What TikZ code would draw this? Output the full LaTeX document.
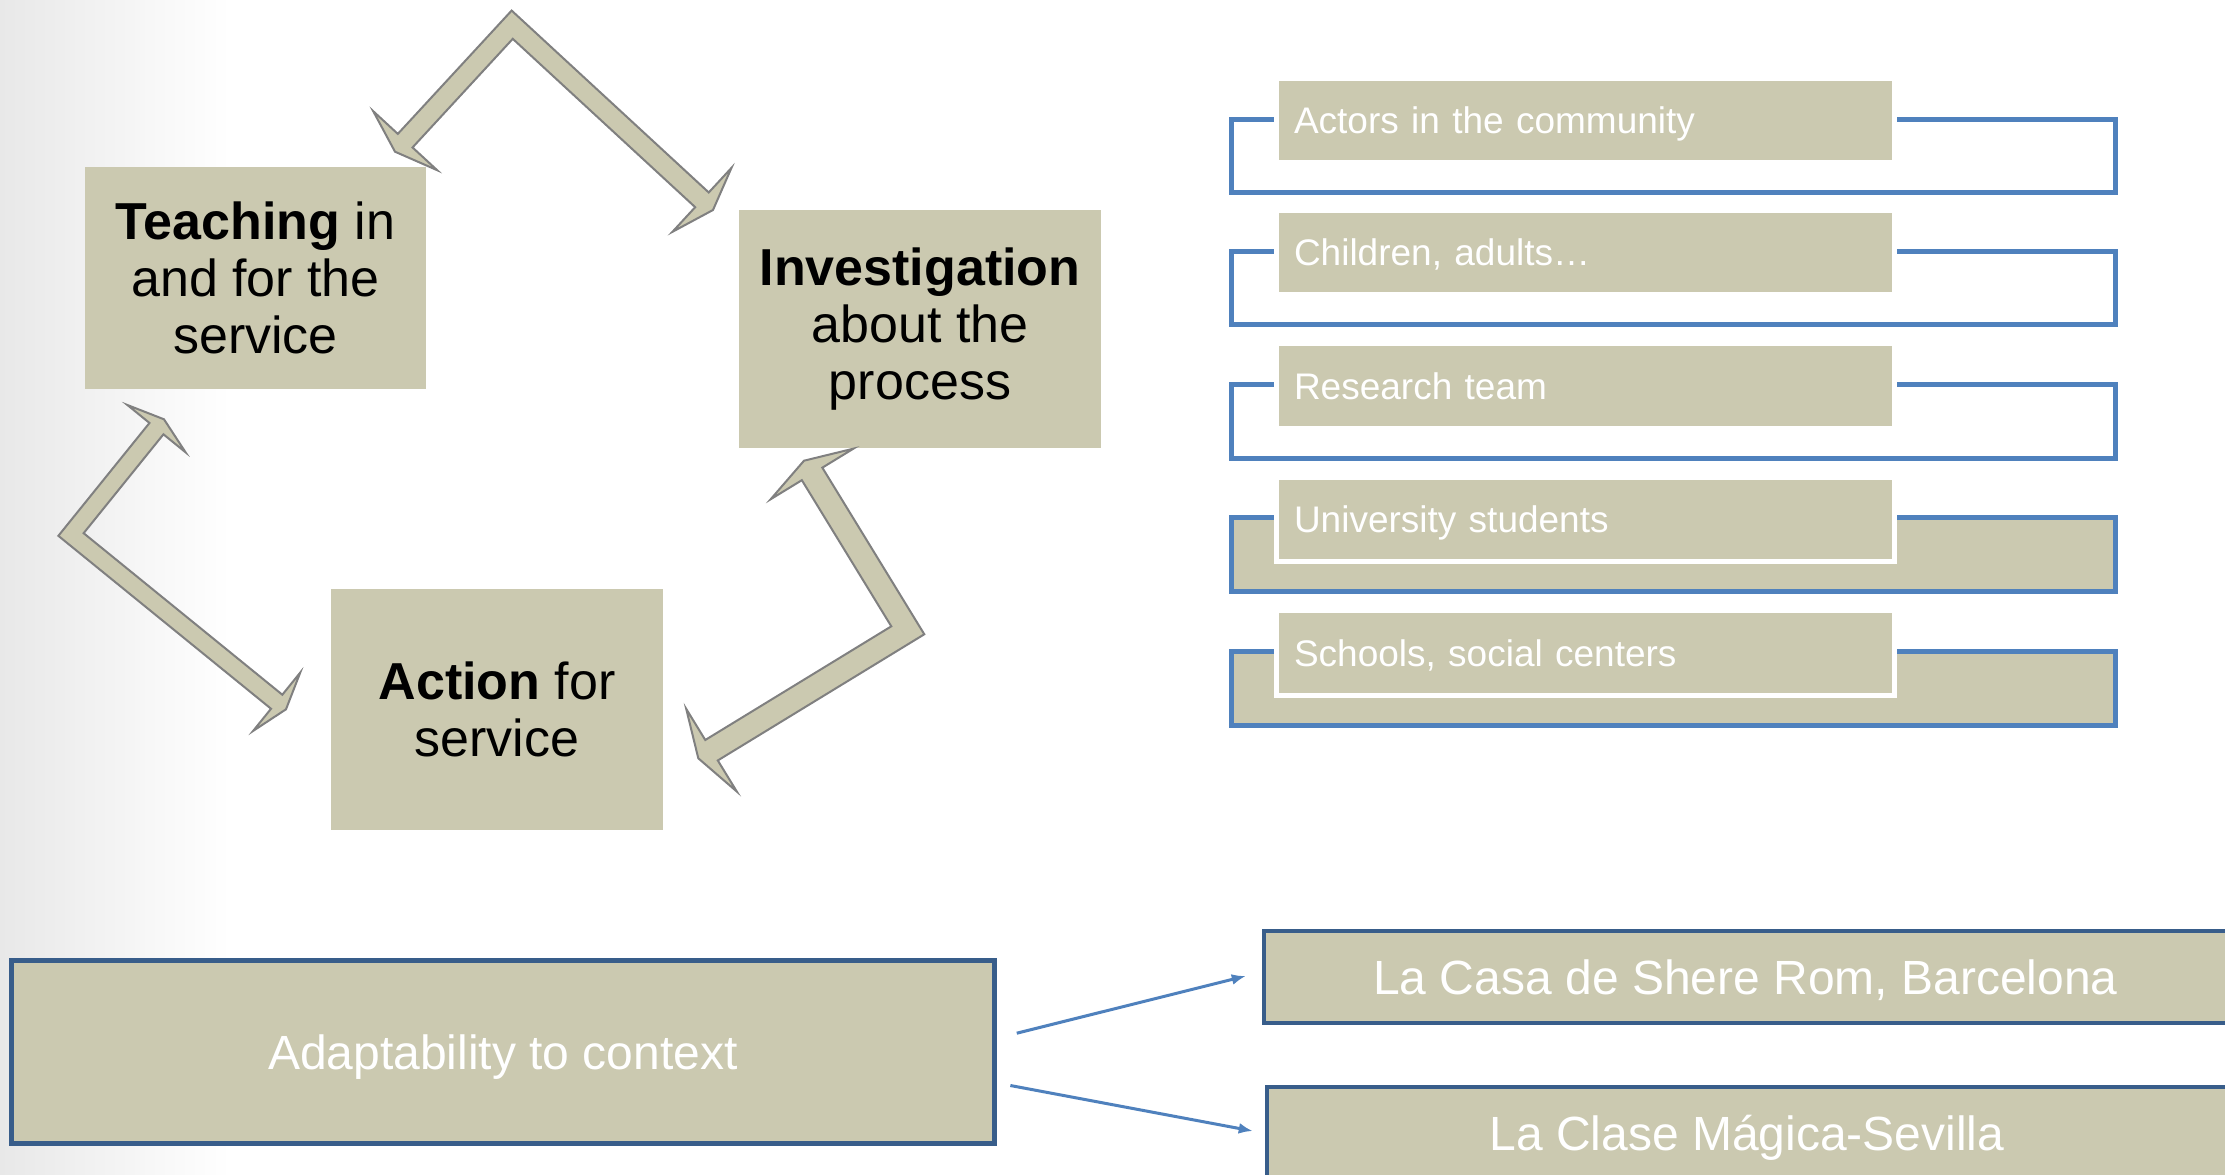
\documentclass[tikz,border=0pt]{standalone}
\usepackage{fontspec}
\setmainfont{Liberation Sans}
\usetikzlibrary{calc,arrows.meta}
\definecolor{beige}{RGB}{203,201,176}
\definecolor{ablue}{RGB}{79,129,189}
\definecolor{dblue}{RGB}{56,93,138}
\definecolor{agray}{RGB}{128,128,128}
\tikzset{
  cyc/.style={rectangle, fill=beige, inner sep=0pt, align=center, text=black,
    font=\fontsize{52}{57}\selectfont},
  cycarrow/.style={fill=beige, draw=agray, line width=2pt, line join=miter},
  bracket/.style={draw=ablue, line width=5pt, line join=miter},
  listnode/.style={rectangle, fill=beige, draw=white, line width=5pt,
    minimum width=618pt, minimum height=84.5pt, text width=582pt, inner xsep=18pt,
    inner ysep=0pt, align=left, text=white, font=\fontsize{37}{44}\selectfont,
    text height=26.5pt, text depth=0pt},
  bigbox/.style={rectangle, fill=beige, draw=dblue, line width=4.5pt, inner sep=0pt,
    text=white, font=\fontsize{48}{56}\selectfont, text height=34.5pt, text depth=0pt},
  conn/.style={draw=ablue, line width=3pt, -{Latex[length=14pt,width=11pt]}}
}
% bent double arrow: #1 tip1, #2 corner, #3 tip2, #4 half shaft width, #5 head half width, #6 head length
\newcommand{\bentarrow}[6]{%
  \coordinate (ba-o) at ($(#2)!-#4!(#1) + (#2)!-#4!(#3) - (#2)$);
  \coordinate (ba-i) at ($(#2)!#4!(#1) + (#2)!#4!(#3) - (#2)$);
  \coordinate (ba-b1) at ($(#1)!#6!(#2)$);
  \coordinate (ba-b2) at ($(#3)!#6!(#2)$);
  \filldraw[cycarrow] (ba-o)
    -- ($(ba-b1) + (#2)!-#4!(#3) - (#2)$)
    -- ($(ba-b1) + (#2)!-#5!(#3) - (#2)$)
    -- (#1)
    -- ($(ba-b1) + (#2)!#5!(#3) - (#2)$)
    -- ($(ba-b1) + (#2)!#4!(#3) - (#2)$)
    -- (ba-i)
    -- ($(ba-b2) + (#2)!#4!(#1) - (#2)$)
    -- ($(ba-b2) + (#2)!#5!(#1) - (#2)$)
    -- (#3)
    -- ($(ba-b2) + (#2)!-#5!(#1) - (#2)$)
    -- ($(ba-b2) + (#2)!-#4!(#1) - (#2)$)
    -- cycle;
}
% list item with bracket: #1 top y, #2 name, #3 text, #4 bracket fill option
\newcommand{\listbox}[4]{%
  \path[#4] (1231.7,#1+38.3) rectangle (2115.7,#1+112);
  \draw[bracket] (1300,#1+38.3) -- (1231.7,#1+38.3) -- (1231.7,#1+112)
    -- (2115.7,#1+112) -- (2115.7,#1+38.3) -- (1870,#1+38.3);
  \node[listnode] (#2) at (1585,#1+39.75) {#3};
}
\begin{document}
\begin{tikzpicture}[x=1pt,y=-1pt]
\useasboundingbox (0,0) rectangle (2225,1175);
\clip (0,0) rectangle (2225,1175);
\fill[white] (0,0) rectangle (2225,1175);
\shade[left color=black!9, right color=white] (0,0) rectangle (230,1175);

% cycle boxes
\node[cyc, minimum width=341pt, minimum height=222pt] (teach) at (255.5,278)
  {\textbf{Teaching} in\\and for the\\service};
\node[cyc, minimum width=362pt, minimum height=238pt] (invest) at (920,329)
  {\textbf{Investigation}\\about the\\process};
\node[cyc, minimum width=332pt, minimum height=241pt] (action) at (497,709.5)
  {\textbf{Action} for\\service};

% bent arrows of the cycle
\coordinate (ta1) at (395,151.7);
\coordinate (tac) at (512.2,24.7);
\coordinate (ta2) at (713,210);
\bentarrow{ta1}{tac}{ta2}{10pt}{43.5pt}{15pt}
\coordinate (la1) at (164,419.3);
\coordinate (lac) at (71,534.5);
\coordinate (la2) at (286,709.3);
\bentarrow{la1}{lac}{la2}{9pt}{37.5pt}{12pt}
\coordinate (ra1) at (804,460.7);
\coordinate (rac) at (907.8,630.3);
\coordinate (ra2) at (698.3,758.3);
\bentarrow{ra1}{rac}{ra2}{12pt}{48.5pt}{15.5pt}

% right list
\listbox{80.9}{actors}{Actors in the community}{draw=none}
\listbox{212.9}{children}{Children, adults…}{draw=none}
\listbox{346.2}{research}{Research team}{draw=none}
\listbox{479.6}{students}{University students}{fill=beige}
\listbox{613}{schools}{Schools, social centers}{fill=beige}

% bottom
\node[bigbox, minimum width=983pt, minimum height=183pt] (adapt) at (503,1052.2)
  {Adaptability to context};
\node[bigbox, minimum width=963pt, minimum height=92pt] (casa) at (1745.5,977)
  {La Casa de Shere Rom, Barcelona};
\node[bigbox, minimum width=960pt, minimum height=92pt] (clase) at (1747,1133)
  {La Clase Mágica-Sevilla};
\draw[conn] ($(adapt.east)+(20,-19)$) -- ($(casa.west)+(-16,-1)$);
\draw[conn] ($(adapt.east)+(13.6,33.3)$) -- ($(clase.west)+(-12,-2)$);
\end{tikzpicture}
\end{document}
